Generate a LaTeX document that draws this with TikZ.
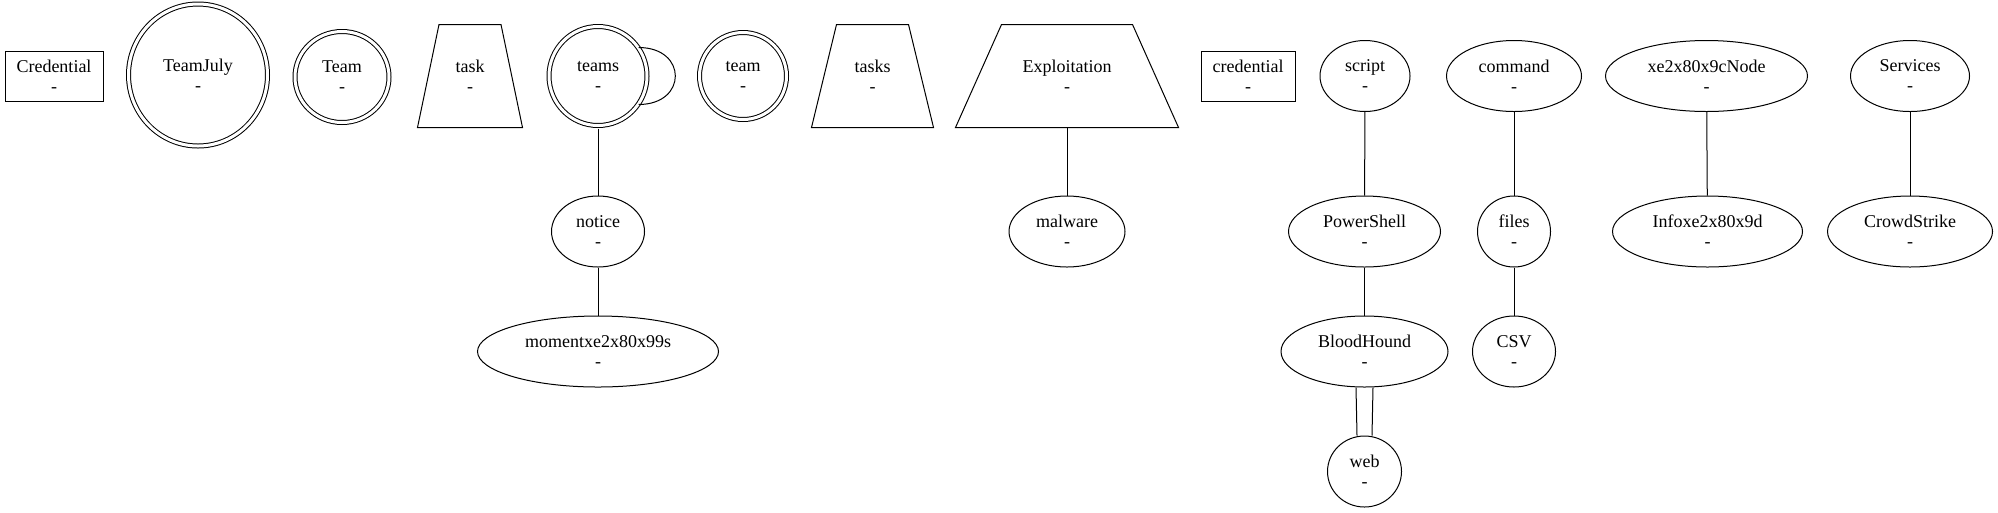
\documentclass[tikz,border=0pt]{standalone}
\usepackage{fontspec}
\setmainfont{Liberation Serif}
\newfontfamily\nodefont{Liberation Serif}
\usetikzlibrary{shapes.geometric}
\newdimen\px \px=0.75pt
\tikzset{
  every node/.style={font=\nodefont\fontsize{13.5}{15}\selectfont, align=center, inner sep=0pt},
  box/.style={draw, rectangle, minimum width=#1, minimum height=50\px},
  oval/.style={draw, ellipse, minimum width=#1, minimum height=71\px},
  ring/.style 2 args={draw, ellipse, double, double distance=3\px, minimum width=#1, minimum height=#2},
  trapbox/.style={rectangle, minimum width=#1, minimum height=102\px},
}
\begin{document}
\begin{tikzpicture}[x=1\px, y=-1\px, line width=1\px]
	\useasboundingbox (0,0) rectangle (1998,512);

	% top row
	\node[box=98\px] (Credential) at (54,76) {Credential\\-};
	\node[ring={139\px}{142\px}] (TeamJuly) at (198,75) {TeamJuly\\-};
	\node[ring={94\px}{91\px}] (Team) at (342,77) {Team\\-};
	\node[trapbox=104\px] (task) at (470,76) {task\\-};
	\node[ring={98\px}{99\px}] (teams) at (598,76) {teams\\-};
	\node[ring={87\px}{87\px}] (team) at (743,76) {team\\-};
	\node[trapbox=121\px] (tasks) at (872.5,76) {tasks\\-};
	\node[trapbox=222\px] (Exploitation) at (1067,76) {Exploitation\\-};
	\node[box=94\px] (credential) at (1248,76) {credential\\-};
	\node[oval=90\px] (script) at (1365,76) {script\\-};
	\node[oval=135\px] (command) at (1514,76) {command\\-};
	\node[oval=202\px] (Node) at (1706.5,76) {xe2x80x9cNode\\-};
	\node[oval=119\px] (Services) at (1910,76) {Services\\-};

	% trapezium outlines
	\draw ([xshift=21.5\px]task.north west) -- ([xshift=-21.5\px]task.north east)
		-- (task.south east) -- (task.south west) -- cycle;
	\draw ([xshift=25\px]tasks.north west) -- ([xshift=-25\px]tasks.north east)
		-- (tasks.south east) -- (tasks.south west) -- cycle;
	\draw ([xshift=46\px]Exploitation.north west) -- ([xshift=-46\px]Exploitation.north east)
		-- (Exploitation.south east) -- (Exploitation.south west) -- cycle;

	% second row
	\node[oval=93\px] (notice) at (598,231.5) {notice\\-};
	\node[oval=116\px] (malware) at (1067,231.5) {malware\\-};
	\node[oval=152\px] (PowerShell) at (1364.5,231.5) {PowerShell\\-};
	\node[oval=73\px] (files) at (1514,231.5) {files\\-};
	\node[oval=190\px] (Info) at (1707.5,231.5) {Infoxe2x80x9d\\-};
	\node[oval=165\px] (CrowdStrike) at (1910,231.5) {CrowdStrike\\-};

	% third and fourth row
	\node[oval=241\px] (moment) at (598,351.5) {momentxe2x80x99s\\-};
	\node[oval=167\px] (BloodHound) at (1364.5,351.5) {BloodHound\\-};
	\node[oval=83\px] (CSV) at (1514,351.5) {CSV\\-};
	\node[oval=74\px] (web) at (1364.5,471.5) {web\\-};

	% edges
	\draw (teams.35) to[out=0, in=0, looseness=2.2] (teams.-35);
	\draw[shorten <=2.5\px] (teams) -- (notice);
	\draw (notice) -- (moment);
	\draw (Exploitation) -- (malware);
	\draw (script) -- (PowerShell);
	\draw (PowerShell) -- (BloodHound);
	\draw ([xshift=-8.5\px]BloodHound.south) -- ([xshift=-7.5\px]web.north);
	\draw ([xshift=8.5\px]BloodHound.south) -- ([xshift=7.5\px]web.north);
	\draw (command) -- (files);
	\draw (files) -- (CSV);
	\draw (Node) -- (Info);
	\draw (Services) -- (CrowdStrike);
\end{tikzpicture}
\end{document}
